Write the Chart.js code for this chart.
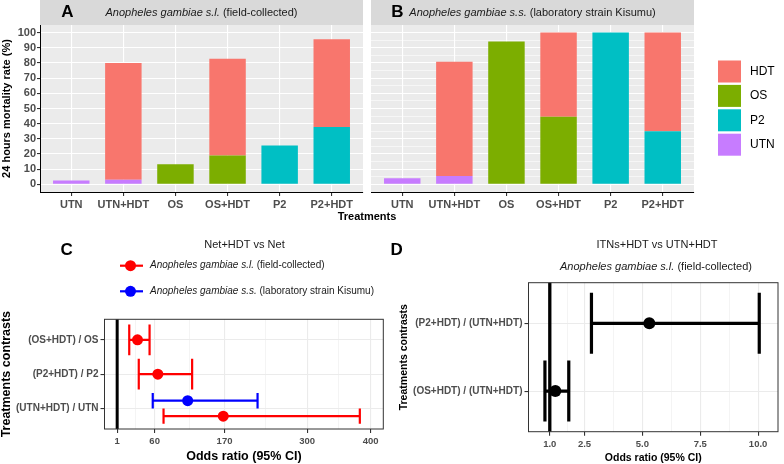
<!DOCTYPE html>
<html>
<head>
<meta charset="utf-8">
<script src="https://cdn.jsdelivr.net/npm/chart.js@4.4.1/dist/chart.umd.min.js"></script>
<style>
  html, body { margin: 0; padding: 0; background: #fff; }
  #wrap { position: relative; width: 784px; height: 464px; overflow: hidden; }
  #wrap canvas { position: absolute; left: 0; top: 0; }
</style>
</head>
<body>
<div id="wrap">
  <canvas id="chartA" width="784" height="464"></canvas>
  <canvas id="chartB" width="784" height="464"></canvas>
  <canvas id="chartC" width="784" height="464"></canvas>
  <canvas id="chartD" width="784" height="464"></canvas>
</div>
<script>
// --- A / B: 24 h mortality, stacked by component ---
const treatments = ["UTN", "UTN+HDT", "OS", "OS+HDT", "P2", "P2+HDT"];
const mortalityTicks = [0, 10, 20, 30, 40, 50, 60, 70, 80, 90, 100];

// field-collected An. gambiae s.l.
const fieldUTN = [2.5, 3, null, null, null, null];
const fieldOS = [null, null, 13.3, 19, null, null];
const fieldP2 = [null, null, null, null, 25.6, 37.8];
const fieldHDT = [null, 77, null, 63.7, null, 57.8];

// laboratory strain Kisumu
const kisumuUTN = [4, 5.6, null, null, null, null];
const kisumuOS = [null, null, 94.2, 44.5, null, null];
const kisumuP2 = [null, null, null, null, 100, 35];
const kisumuHDT = [null, 75.2, null, 55.5, null, 65];

// stacking order, bottom to top (legend shows it reversed)
const components = ["UTN", "P2", "OS", "HDT"];
const componentColors = ["#C77CFF", "#00BFC4", "#7CAE00", "#F8766D"];

// --- C: Net+HDT vs Net ---
const contrastsC = ["(OS+HDT) / OS", "(P2+HDT) / P2", "(UTN+HDT) / UTN"];
const fieldOR = [33, 65, 168];
const fieldLow = [20, 35, 74];
const fieldHigh = [52, 119, 383];
const kisumuOR = [null, null, 112];
const kisumuLow = [null, null, 57];
const kisumuHigh = [null, null, 222];
const oddsTicksC = [1, 60, 170, 300, 400];

// --- D: ITNs+HDT vs UTN+HDT ---
const contrastsD = ["(P2+HDT) / (UTN+HDT)", "(OS+HDT) / (UTN+HDT)"];
const itnOR = [5.3, 1.24];
const itnLow = [2.8, 0.79];
const itnHigh = [10.05, 1.82];
const oddsTicksD = [1, 2.5, 5, 7.5, 10];

const FONT = "'Liberation Sans', Arial, sans-serif";
Chart.defaults.font.family = FONT;
Chart.defaults.color = "#4D4D4D";
Chart.defaults.animation = false;
Chart.defaults.events = [];
Chart.defaults.plugins.legend.display = false;
Chart.defaults.plugins.tooltip.enabled = false;

// major breaks plus ggplot-style minor breaks half way between them
function withMinor(majors) {
  const all = majors.slice();
  for (let i = 0; i < majors.length - 1; i++) all.push((majors[i] + majors[i + 1]) / 2);
  return all.sort((a, b) => a - b).map(v => ({ value: v }));
}

function drawRich(ctx, parts, x, y, size, color, align) {
  const fonts = parts.map(p => (p[1] ? "italic " : "") + size + "px " + FONT);
  const widths = parts.map((p, i) => { ctx.font = fonts[i]; return ctx.measureText(p[0]).width; });
  const total = widths.reduce((a, b) => a + b, 0);
  let cx = align === "left" ? x : x - total / 2;
  ctx.fillStyle = color;
  ctx.textAlign = "left";
  ctx.textBaseline = "middle";
  parts.forEach((p, i) => { ctx.font = fonts[i]; ctx.fillText(p[0], cx, y); cx += widths[i]; });
}

function drawTag(ctx, letter, x, y) {
  ctx.font = "bold 17px " + FONT;
  ctx.fillStyle = "#000";
  ctx.textAlign = "center";
  ctx.textBaseline = "middle";
  ctx.fillText(letter, x, y);
}

// grey panel + facet strip (theme_grey)
const ggFacet = {
  id: "ggFacet",
  beforeDraw(chart, args, o) {
    const { ctx, chartArea: a } = chart;
    ctx.save();
    ctx.fillStyle = "#EBEBEB";
    ctx.fillRect(a.left, a.top, a.width, a.height);
    ctx.fillStyle = "#D9D9D9";
    ctx.fillRect(a.left, 0, a.width, a.top);
    drawRich(ctx, o.strip, (a.left + a.right) / 2, a.top / 2 + 0.5, 11, "#1A1A1A");
    drawTag(ctx, o.tag, o.tagX, 12.5);
    ctx.restore();
  },
  afterDraw(chart, args, o) {
    const { ctx } = chart;
    ctx.save();
    if (o.xTitle) {
      ctx.font = "bold 11px " + FONT;
      ctx.fillStyle = "#000";
      ctx.textAlign = "center";
      ctx.textBaseline = "middle";
      ctx.fillText(o.xTitle, 367, 217);
    }
    if (o.legend) {
      const ds = chart.data.datasets.slice().reverse();
      ds.forEach((d, i) => {
        const top = 60.5 + i * 24.4;
        ctx.fillStyle = d.backgroundColor;
        ctx.fillRect(718, top, 23, 22);
        ctx.font = "12px " + FONT;
        ctx.fillStyle = "#000";
        ctx.textAlign = "left";
        ctx.textBaseline = "middle";
        ctx.fillText(d.label, 750, top + 11);
      });
    }
    ctx.restore();
  }
};

function stackedBars(series) {
  return components.map((name, k) => ({
    label: name,
    data: series[name].map((v, i) => ({ x: i + 1, y: v })),
    backgroundColor: componentColors[k],
    borderWidth: 0,
    barPercentage: 0.7,
    categoryPercentage: 1
  }));
}

function barScales(showY) {
  const major = c => c.tick && mortalityTicks.includes(c.tick.value);
  return {
    x: {
      type: "linear", min: 0.4, max: 6.6, stacked: true, offset: false,
      afterBuildTicks: s => { s.ticks = treatments.map((t, i) => ({ value: i + 1 })); },
      afterFit: s => { s.height = 20; },
      ticks: { autoSkip: false, maxRotation: 0, padding: 2, color: "#4D4D4D",
        font: { size: 11, weight: "bold" }, callback: v => treatments[v - 1] },
      grid: { offset: false, color: "#FFFFFF", lineWidth: 1.1, tickLength: 4, tickColor: "#333333" },
      border: { display: true, color: "#000000", width: 1 }
    },
    y: {
      type: "linear", min: -5, max: 105, stacked: true,
      afterBuildTicks: s => { s.ticks = withMinor(mortalityTicks); },
      afterFit: s => { s.width = showY ? 40 : 0; },
      ticks: { display: showY, padding: 1, color: "#4D4D4D", font: { size: 11, weight: "bold" },
        callback: v => (mortalityTicks.includes(v) ? String(v) : "") },
      grid: { color: "#FFFFFF", lineWidth: c => (major(c) ? 1.1 : 0.55), drawTicks: showY,
        tickLength: 3, tickColor: c => (major(c) ? "#333333" : "rgba(0,0,0,0)") },
      border: { display: showY, color: "#000000", width: 1 },
      title: { display: showY, text: "24 hours mortality rate (%)", color: "#000",
        font: { size: 11, weight: "bold", lineHeight: 1 }, padding: { top: 1, bottom: 0 } }
    }
  };
}

new Chart(document.getElementById("chartA"), {
  type: "bar",
  data: { datasets: stackedBars({ UTN: fieldUTN, P2: fieldP2, OS: fieldOS, HDT: fieldHDT }) },
  options: {
    responsive: false,
    layout: { padding: { left: 0, top: 25, right: 421, bottom: 252 } },
    scales: barScales(true),
    plugins: { ggFacet: { strip: [["Anopheles gambiae s.l.", true], [" (field-collected)", false]],
      tag: "A", tagX: 67.5, xTitle: "Treatments" } }
  },
  plugins: [ggFacet]
});

new Chart(document.getElementById("chartB"), {
  type: "bar",
  data: { datasets: stackedBars({ UTN: kisumuUTN, P2: kisumuP2, OS: kisumuOS, HDT: kisumuHDT }) },
  options: {
    responsive: false,
    layout: { padding: { left: 371, top: 25, right: 90, bottom: 252 } },
    scales: barScales(false),
    plugins: { ggFacet: { strip: [["Anopheles gambiae s.s.", true], [" (laboratory strain Kisumu)", false]],
      tag: "B", tagX: 397.5, legend: true } }
  },
  plugins: [ggFacet]
});

// --- forest plots ---
const forestBars = {
  id: "forestBars",
  beforeDatasetsDraw(chart, args, o) {
    const { ctx, chartArea: a, scales: { x, y } } = chart;
    ctx.save();
    const ref = x.getPixelForValue(o.ref);
    ctx.strokeStyle = "#000";
    ctx.lineWidth = o.refWidth;
    ctx.beginPath(); ctx.moveTo(ref, a.top); ctx.lineTo(ref, a.bottom); ctx.stroke();
    chart.data.datasets.forEach(ds => {
      ctx.strokeStyle = ds.backgroundColor;
      ctx.lineWidth = o.lineWidth;
      ds.data.forEach(p => {
        const py = y.getPixelForValue(p.y);
        const h = Math.abs(y.getPixelForValue(p.y + p.cap) - py);
        const xl = x.getPixelForValue(p.lo), xh = x.getPixelForValue(p.hi);
        ctx.beginPath();
        ctx.moveTo(xl, py); ctx.lineTo(xh, py);
        ctx.moveTo(xl, py - h); ctx.lineTo(xl, py + h);
        ctx.moveTo(xh, py - h); ctx.lineTo(xh, py + h);
        ctx.stroke();
      });
    });
    ctx.restore();
  },
  afterDraw(chart, args, o) {
    const { ctx, chartArea: a } = chart;
    ctx.save();
    ctx.strokeStyle = "#333333";
    ctx.lineWidth = 1;
    ctx.strokeRect(a.left, a.top, a.width, a.height);
    drawTag(ctx, o.tag, o.tagX, 250);
    (o.titles || []).forEach(t => drawRich(ctx, t.parts, t.x, t.y, 11, "#1A1A1A"));
    if (o.legend) {
      chart.data.datasets.forEach((d, i) => {
        const ly = 265.7 + i * 25.6;
        ctx.strokeStyle = d.backgroundColor;
        ctx.lineWidth = 2.2;
        ctx.beginPath(); ctx.moveTo(120, ly); ctx.lineTo(143, ly); ctx.stroke();
        ctx.fillStyle = d.backgroundColor;
        ctx.beginPath(); ctx.arc(130.5, ly, 5.5, 0, Math.PI * 2); ctx.fill();
        drawRich(ctx, d.legendParts, 150, ly, 10, "#1A1A1A", "left");
      });
    }
    ctx.restore();
  }
};

// dodge series sharing a row (position_dodge(0.9)); later series sits higher
function forestDatasets(rows, series, radius) {
  return series.map(s => ({
    label: s.label,
    legendParts: s.legendParts,
    data: rows.map((r, i) => {
      if (s.or[i] == null) return null;
      const present = series.filter(t => t.or[i] != null);
      const n = present.length, j = present.indexOf(s);
      const slot = 0.9 / n;
      return { x: s.or[i], y: i + 1 + ((n - 1) / 2 - j) * slot, lo: s.lo[i], hi: s.hi[i], cap: slot / 2 };
    }).filter(Boolean),
    backgroundColor: s.color,
    borderWidth: 0,
    pointRadius: radius
  }));
}

function forestScales(rows, ticks, xMin, xMax, yAxisW, xAxisH, f) {
  const major = c => c.tick && ticks.includes(c.tick.value);
  return {
    x: {
      type: "linear", min: xMin, max: xMax,
      afterBuildTicks: s => { s.ticks = withMinor(ticks); },
      afterFit: s => { s.height = xAxisH; },
      ticks: { autoSkip: false, maxRotation: 0, padding: 3, color: "#4D4D4D",
        font: { size: 9.5, weight: "bold" }, callback: v => (ticks.includes(v) ? f.fmt(v) : "") },
      grid: { color: "#EBEBEB", lineWidth: c => (major(c) ? 1.1 : 0.55), tickLength: 4,
        tickColor: c => (major(c) ? "#333333" : "rgba(0,0,0,0)") },
      border: { display: false },
      title: { display: true, text: "Odds ratio (95% CI)", color: "#000",
        font: { size: f.titleSize, weight: "bold", lineHeight: 1 }, padding: { top: 0, bottom: 1 } }
    },
    y: {
      type: "linear", min: 0.4, max: rows.length + 0.6, reverse: true,
      afterBuildTicks: s => { s.ticks = rows.map((r, i) => ({ value: i + 1 })); },
      afterFit: s => { s.width = yAxisW; },
      ticks: { padding: 2, color: "#4D4D4D", font: { size: 10, weight: "bold" }, callback: v => rows[v - 1] },
      grid: { color: "#EBEBEB", lineWidth: 1.1, tickLength: 4, tickColor: "#333333" },
      border: { display: false },
      title: { display: true, text: "Treatments contrasts", color: "#000",
        font: { size: f.titleSize, weight: "bold", lineHeight: 1 }, padding: { top: f.yTitlePad, bottom: 0 } }
    }
  };
}

new Chart(document.getElementById("chartC"), {
  type: "scatter",
  data: {
    datasets: forestDatasets(contrastsC, [
      { label: "s.l.", or: fieldOR, lo: fieldLow, hi: fieldHigh, color: "#FF0000",
        legendParts: [["Anopheles gambiae s.l.", true], [" (field-collected)", false]] },
      { label: "s.s.", or: kisumuOR, lo: kisumuLow, hi: kisumuHigh, color: "#0000FF",
        legendParts: [["Anopheles gambiae s.s.", true], [" (laboratory strain Kisumu)", false]] }
    ], 5.5)
  },
  options: {
    responsive: false,
    layout: { padding: { left: 0, top: 319.3, right: 400.7, bottom: 0 } },
    scales: forestScales(contrastsC, oddsTicksC, -18.95, 419.95, 104.5, 35,
      { fmt: v => String(v), titleSize: 12.5, yTitlePad: 0 }),
    plugins: {
      forestBars: { ref: 1, refWidth: 3, lineWidth: 2.2, tag: "C", tagX: 66.7, legend: true,
        titles: [{ parts: [["Net+HDT vs Net", false]], x: 244.5, y: 245 }] }
    }
  },
  plugins: [forestBars]
});

new Chart(document.getElementById("chartD"), {
  type: "scatter",
  data: {
    datasets: forestDatasets(contrastsD, [
      { label: "s.l.", or: itnOR, lo: itnLow, hi: itnHigh, color: "#000000" }
    ], 6)
  },
  options: {
    responsive: false,
    layout: { padding: { left: 392, top: 282.7, right: 4, bottom: 0 } },
    scales: forestScales(contrastsD, oddsTicksD, 0.08, 10.86, 136.5, 32.3,
      { fmt: v => v.toFixed(1), titleSize: 10.5, yTitlePad: 6.5 }),
    plugins: {
      forestBars: { ref: 1, refWidth: 3.3, lineWidth: 3.2, tag: "D", tagX: 396.7,
        titles: [
          { parts: [["ITNs+HDT vs UTN+HDT", false]], x: 657, y: 245 },
          { parts: [["Anopheles gambiae s.l.", true], [" (field-collected)", false]], x: 656, y: 267 }
        ] }
    }
  },
  plugins: [forestBars]
});
</script>
</body>
</html>
